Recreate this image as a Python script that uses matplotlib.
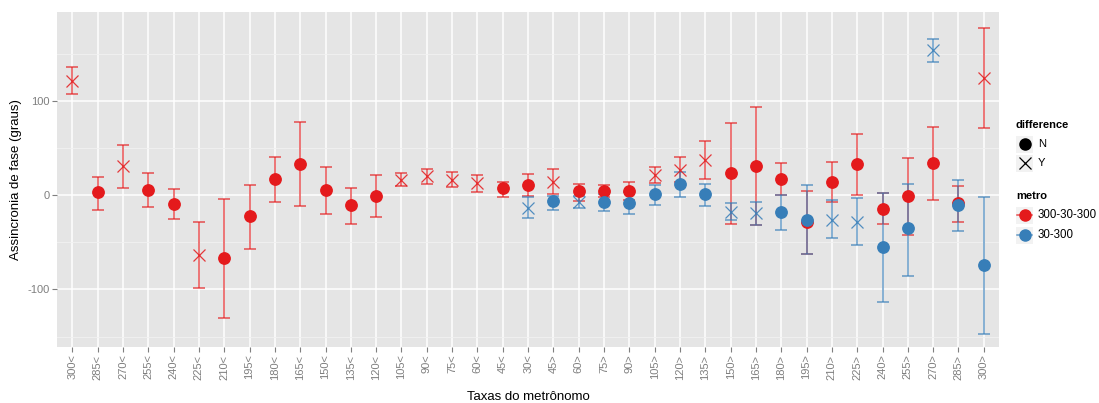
import numpy as np
import matplotlib.pyplot as plt
from matplotlib.lines import Line2D
from matplotlib.patches import Rectangle

plt.rcParams['font.family'] = ['Liberation Sans', 'DejaVu Sans']

taxas = ['300<', '285<', '270<', '255<', '240<', '225<', '210<', '195<', '180<',
         '165<', '150<', '135<', '120<', '105<', '90<', '75<', '60<', '45<', '30<',
         '45>', '60>', '75>', '90>', '105>', '120>', '135>', '150>', '165>', '180>',
         '195>', '210>', '225>', '240>', '255>', '270>', '285>', '300>']

# metro 300-30-300 (todas as taxas)
red_media = [121, 3, 31, 5.5, -9, -63, -67, -22, 17, 33, 5.5, -11, -0.5, 16, 20, 16, 13,
             7, 10.5, 14, 4.5, 4.5, 4.5, 21, 27, 37, 23, 31, 17.5, -28, 14, 33, -15, -1,
             34, -8.5, 124]
red_inf = [107, -16, 8, -13, -25, -98, -130, -57, -7, -12, -20, -31, -23, 10, 12, 8.5, 3.5,
           -2.5, -1, 1, -6, -2.5, -5.5, 13, 14, 17, -31, -32, 0, -62, -7, 0, -31, -42,
           -5, -28.5, 71]
red_sup = [136, 19, 53, 23, 6, -29, -4, 11, 40, 78, 30, 7, 21, 23, 28, 24, 21,
           14, 22, 28, 12, 11, 14, 30, 40, 57, 76, 93, 34, 4, 35, 65, 2, 39,
           72, 10, 177]
red_dif = ['Y', 'N', 'Y', 'N', 'N', 'Y', 'N', 'N', 'N', 'N', 'N', 'N', 'N', 'Y', 'Y', 'Y', 'Y',
           'N', 'N', 'Y', 'N', 'N', 'N', 'Y', 'Y', 'Y', 'N', 'N', 'N', 'N', 'N', 'N', 'N', 'N',
           'N', 'N', 'Y']

# metro 30-300 (de 30< em diante)
blue_media = [-14, -6.5, -7.5, -7.5, -8, 1, 12, 1, -17.5, -19.5, -17.5, -26, -26, -28,
              -54.5, -35, 154, -11, -74]
blue_inf = [-24, -15.5, -13.5, -16.5, -20, -10.5, -2.5, -12, -26.5, -31.5, -37, -62,
            -45.5, -53, -113, -85.5, 141, -38.5, -147]
blue_sup = [-1.5, -1, -1, 1.5, 3, 11, 24, 12, -8, -7, 0, 11, -5.5, -3.5, 2.5, 12,
            166, 16, -2.5]
blue_dif = ['Y', 'N', 'Y', 'N', 'N', 'N', 'N', 'N', 'Y', 'Y', 'N', 'N', 'Y', 'Y',
            'N', 'N', 'Y', 'N', 'N']

VERMELHO = '#E41A1C'
AZUL = '#377EB8'
CINZA_TXT = '#7F7F7F'

fig = plt.figure(figsize=(10.99, 4.03), dpi=100)
ax = fig.add_axes([0.052, 0.139, 0.857, 0.831])
ax.set_facecolor('#E5E5E5')
for s in ax.spines.values():
    s.set_visible(False)

x = np.arange(len(taxas))
x_blue = x[len(taxas) - len(blue_media):]


def desenha(xs, media, inf, sup, dif, cor):
    media = np.array(media, dtype=float)
    inf = np.array(inf, dtype=float)
    sup = np.array(sup, dtype=float)
    dif = np.array(dif)
    ax.errorbar(xs, media, yerr=[media - inf, sup - media], fmt='none', ecolor=cor,
                elinewidth=1.1, capsize=4.4, capthick=1.1, alpha=0.75, zorder=3)
    n = dif == 'N'
    ax.plot(xs[n], media[n], 'o', color=cor, markersize=8.2, zorder=4)
    ax.plot(xs[~n], media[~n], 'x', color=cor, markersize=9, mew=0.9, alpha=0.85, zorder=4)


desenha(x, red_media, red_inf, red_sup, red_dif, VERMELHO)
desenha(x_blue, blue_media, blue_inf, blue_sup, blue_dif, AZUL)

ax.set_xlim(-0.6, len(taxas) - 0.4)
ax.set_ylim(-161, 194)
ax.set_xticks(x)
ax.set_xticklabels(taxas, rotation=90, fontsize=8, color=CINZA_TXT)
ax.set_yticks([-100, 0, 100])
ax.set_yticklabels(['-100', '0', '100'], fontsize=8, color=CINZA_TXT)
ax.set_yticks([-150, -50, 50, 150], minor=True)
ax.grid(True, which='major', color='white', linewidth=1.1)
ax.grid(True, which='minor', axis='y', color='#F2F2F2', linewidth=0.6)
ax.tick_params(axis='both', which='major', color=CINZA_TXT, length=3.5, width=0.8, pad=2)
ax.tick_params(axis='y', which='minor', length=0)
ax.set_axisbelow(True)

ax.set_xlabel('Taxas do metrônomo', fontsize=9.5, labelpad=8)
ax.set_ylabel('Assincronia de fase (graus)', fontsize=9.5, labelpad=4)

# legendas à direita do painel
W, H = 1099.0, 403.0


def fx(px):
    return px / W


def fy(py):
    return 1 - py / H


def chave(py):
    fig.add_artist(Rectangle((fx(1016), fy(py + 9)), 17 / W, 17 / H,
                             transform=fig.transFigure, facecolor='#F2F2F2',
                             edgecolor='none'))


fig.text(fx(1016), fy(125), 'difference', fontsize=8, fontweight='bold', va='center')
chave(144)
fig.add_artist(Line2D([fx(1024.5)], [fy(144)], marker='o', color='black',
                      markersize=8, transform=fig.transFigure))
fig.text(fx(1038), fy(144), 'N', fontsize=8, va='center')
chave(163)
fig.add_artist(Line2D([fx(1024.5)], [fy(163)], marker='x', color='black',
                      markersize=9, mew=0.9, transform=fig.transFigure))
fig.text(fx(1038), fy(163), 'Y', fontsize=8, va='center')

fig.text(fx(1016), fy(196), 'metro', fontsize=8, fontweight='bold', va='center')
for py, cor, nome in [(215, VERMELHO, '300-30-300'), (235, AZUL, '30-300')]:
    chave(py)
    fig.add_artist(Line2D([fx(1017), fx(1032)], [fy(py), fy(py)], color=cor,
                          linewidth=1.1, alpha=0.75, transform=fig.transFigure))
    fig.add_artist(Line2D([fx(1024.5)], [fy(py)], marker='o', color=cor,
                          markersize=8, transform=fig.transFigure))
    fig.text(fx(1038), fy(py), nome, fontsize=8.3, va='center')

fig.savefig('out.png', dpi=100)
